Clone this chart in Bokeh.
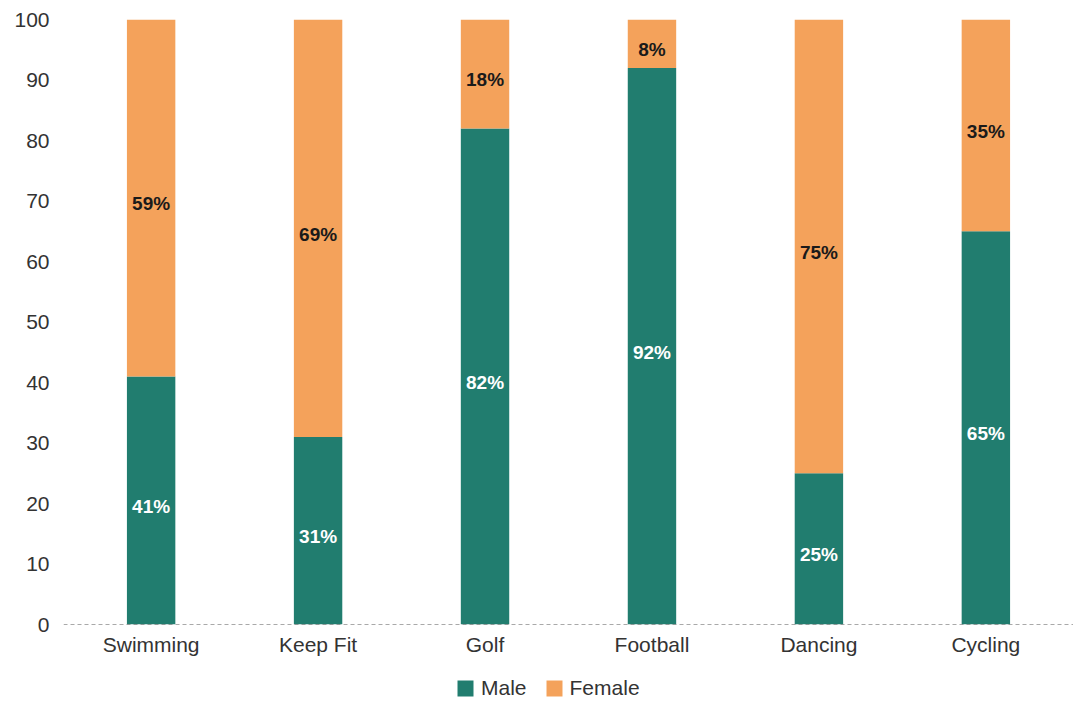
from bokeh.plotting import figure
from bokeh.layouts import column
from bokeh.models import FactorRange, Range1d, Span, Legend, LegendItem, ColumnDataSource, SingleIntervalTicker
from bokeh.core.properties import value
from bokeh.embed import file_html
from bokeh.resources import INLINE

sports = ["Swimming", "Keep Fit", "Golf", "Football", "Dancing", "Cycling"]
male = [41, 31, 82, 92, 25, 65]
female = [59, 69, 18, 8, 75, 35]
series = ["Male", "Female"]

TEAL = "#217d6f"
ORANGE = "#f4a25b"
FONT = "Liberation Sans"
COLORS = [TEAL, ORANGE]

src = ColumnDataSource(dict(
    sport=sports,
    male=male,
    female=female,
    male_mid=[m / 2 for m in male],
    female_mid=[m + f / 2 for m, f in zip(male, female)],
    male_lbl=[f"{m}%" for m in male],
    female_lbl=[f"{f}%" for f in female],
))

p = figure(x_range=FactorRange(*sports, range_padding=0.0083),
           y_range=Range1d(0, 100),
           frame_width=1010, frame_height=605,
           min_border_left=63, min_border_right=0, min_border_top=19, min_border_bottom=36,
           output_backend="svg", toolbar_location=None)

rs = p.vbar_stack(["male", "female"], x="sport", width=0.29, color=COLORS,
                  line_color=None, source=src)

p.text(x="sport", y="male_mid", text="male_lbl", source=src, text_align="center",
       text_baseline="middle", text_color="white", text_font=value(FONT),
       text_font_style="bold", text_font_size="19px", y_offset=6)
p.text(x="sport", y="female_mid", text="female_lbl", source=src, text_align="center",
       text_baseline="middle", text_color="#1a1a1a", text_font=value(FONT),
       text_font_style="bold", text_font_size="19px", y_offset=6)

p.add_layout(Span(location=0, dimension="width", line_dash="4 3", line_color="#555555", line_width=1))

p.xgrid.grid_line_color = None
p.ygrid.grid_line_color = None
p.outline_line_color = None

for ax in (p.xaxis[0], p.yaxis[0]):
    ax.axis_line_color = None
    ax.major_tick_line_color = None
    ax.minor_tick_line_color = None
    ax.major_tick_out = 0
    ax.major_label_text_font = FONT
    ax.major_label_text_font_size = "21px"
    ax.major_label_text_color = "#333333"

p.yaxis[0].ticker = SingleIntervalTicker(interval=10)
p.yaxis[0].major_label_standoff = 10
p.xaxis[0].major_label_standoff = 8

# legend strip below the chart (swatch renderers sit outside the visible range)
lg = figure(width=1073, height=40, x_range=Range1d(0, 1), y_range=Range1d(0, 1),
            x_axis_location=None, y_axis_location=None, min_border=0,
            output_backend="svg", toolbar_location=None)
lg.grid.grid_line_color = None
lg.outline_line_color = None
swatches = [lg.vbar(x=[-10], top=[0], width=0.1, color=c, line_color=None) for c in COLORS]

legend = Legend(items=[LegendItem(label=s, renderers=[r]) for s, r in zip(series, swatches)],
                orientation="horizontal", location=(392, 0),
                glyph_width=20, glyph_height=20, label_standoff=6, spacing=17,
                label_text_font=FONT, label_text_font_size="21px", label_text_color="#333333",
                border_line_color=None, background_fill_alpha=0, padding=0, margin=0)
lg.add_layout(legend)

page = column(p, lg, spacing=0)
open("out.html", "w").write(file_html(page, INLINE))
